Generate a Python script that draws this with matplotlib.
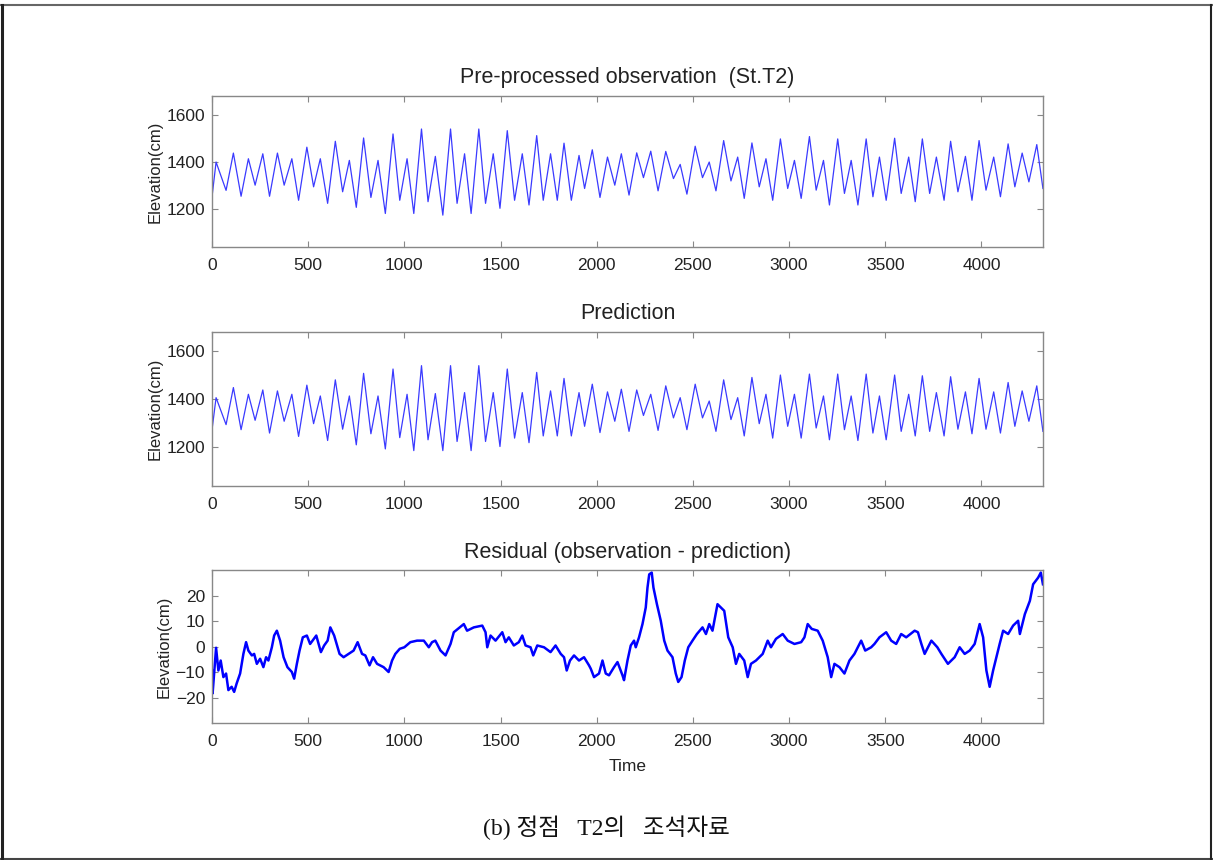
import matplotlib
matplotlib.use("Agg")
import matplotlib.pyplot as plt
from matplotlib.lines import Line2D

# time of each high / low water (10-min steps)
time_ext = [0, 21, 73, 111, 151, 189, 224, 264, 299, 340, 375, 415, 450, 493, 528, 563, 601, 641, 679, 714,
            750, 788, 826, 863, 901, 941, 976, 1014, 1049, 1089, 1123, 1161, 1200, 1240, 1274, 1313, 1347, 1387, 1422, 1462,
            1497, 1535, 1573, 1613, 1648, 1688, 1722, 1760, 1795, 1830, 1868, 1908, 1937, 1977, 2017, 2056, 2094, 2128, 2168, 2208,
            2243, 2281, 2319, 2359, 2399, 2434, 2469, 2512, 2550, 2585, 2620, 2660, 2698, 2733, 2767, 2807, 2845, 2880, 2915, 2955,
            2993, 3028, 3063, 3106, 3141, 3179, 3210, 3253, 3288, 3323, 3358, 3401, 3436, 3470, 3505, 3549, 3583, 3622, 3656, 3693,
            3731, 3766, 3806, 3840, 3878, 3917, 3951, 3988, 4024, 4064, 4099, 4139, 4174, 4212, 4247, 4288, 4320]

obs = [1253, 1400, 1280, 1438, 1255, 1414, 1302, 1435, 1255, 1438, 1302, 1414, 1238, 1463, 1295, 1414, 1225, 1488, 1274, 1407,
       1208, 1502, 1250, 1407, 1182, 1519, 1238, 1414, 1182, 1540, 1232, 1424, 1175, 1540, 1225, 1435, 1182, 1540, 1225, 1435,
       1204, 1533, 1238, 1435, 1218, 1512, 1238, 1435, 1238, 1480, 1238, 1428, 1288, 1452, 1250, 1421, 1302, 1435, 1260, 1439,
       1334, 1446, 1278, 1445, 1330, 1390, 1264, 1467, 1334, 1400, 1278, 1491, 1320, 1421, 1246, 1481, 1295, 1414, 1238, 1498,
       1288, 1407, 1246, 1508, 1281, 1407, 1218, 1498, 1267, 1407, 1218, 1498, 1253, 1421, 1238, 1501, 1267, 1421, 1232, 1498,
       1267, 1421, 1238, 1488, 1274, 1424, 1238, 1491, 1281, 1421, 1253, 1477, 1295, 1438, 1316, 1474, 1288]

pred = [1274, 1407, 1295, 1449, 1274, 1421, 1313, 1439, 1260, 1435, 1309, 1421, 1246, 1459, 1299, 1414, 1229, 1481, 1276, 1414,
        1211, 1508, 1257, 1414, 1194, 1526, 1241, 1421, 1187, 1540, 1232, 1424, 1187, 1540, 1225, 1428, 1187, 1540, 1225, 1428,
        1204, 1526, 1239, 1428, 1220, 1512, 1248, 1435, 1248, 1487, 1248, 1428, 1288, 1463, 1262, 1431, 1309, 1442, 1267, 1439,
        1333, 1421, 1271, 1456, 1323, 1407, 1274, 1463, 1323, 1393, 1267, 1481, 1316, 1407, 1248, 1491, 1299, 1421, 1239, 1501,
        1288, 1421, 1239, 1505, 1281, 1414, 1232, 1505, 1274, 1414, 1229, 1505, 1260, 1414, 1232, 1501, 1267, 1421, 1248, 1498,
        1267, 1428, 1248, 1494, 1276, 1431, 1257, 1487, 1276, 1431, 1260, 1470, 1288, 1435, 1309, 1456, 1267]

res_t = [0, 3, 21, 33, 45, 59, 73, 85, 102, 115, 128, 146, 163, 177, 189, 207, 219, 233, 250, 267,
         281, 293, 311, 323, 337, 354, 372, 392, 415, 427, 441, 455, 472, 493, 510, 542, 566, 583, 601, 615,
         635, 663, 684, 710, 736, 757, 780, 797, 819, 837, 858, 892, 918, 936, 953, 976, 1000, 1031, 1066, 1101,
         1127, 1144, 1161, 1188, 1214, 1240, 1257, 1309, 1326, 1361, 1405, 1422, 1431, 1448, 1474, 1509, 1526, 1543, 1569, 1595,
         1613, 1630, 1656, 1670, 1691, 1726, 1760, 1786, 1813, 1830, 1844, 1861, 1882, 1908, 1934, 1960, 1969,
         1986, 2012, 2030, 2047, 2064, 2090, 2108, 2134, 2142, 2160, 2177, 2194, 2203, 2220, 2238, 2255, 2264, 2273, 2286, 2295,
         2313, 2333, 2351, 2368, 2394, 2411, 2424, 2441, 2458, 2476, 2498, 2521, 2550, 2568, 2585, 2602, 2628, 2663, 2684, 2707,
         2724, 2741, 2767, 2785, 2802, 2828, 2863, 2889, 2906, 2932, 2967, 2993, 3028, 3063, 3080, 3097, 3118, 3149, 3175, 3201,
         3219, 3236, 3262, 3288, 3314, 3340, 3375, 3396, 3427, 3444, 3470, 3505, 3531, 3557, 3583, 3609, 3653, 3670, 3688, 3705,
         3740, 3771, 3792, 3826, 3861, 3887, 3913, 3939, 3965, 3991, 4009, 4026, 4043, 4061, 4078, 4095, 4113, 4139, 4165, 4191,
         4200, 4226, 4252, 4269, 4295, 4309, 4320]

res = [-9.4, -18.4, -0.5, -9.4, -5.5, -12.0, -10.6, -17.1, -15.8, -17.8, -14.5, -10.6, -2.9, 1.7, -1.6, -3.5, -2.9, -6.8, -4.8, -8.1,
       -4.2, -5.5, -0.3, 4.3, 6.2, 2.3, -4.2, -8.1, -10.0, -12.6, -6.8, -1.6, 3.6, 4.3, 1.0, 4.3, -2.2, 0.4, 2.3, 7.5,
       4.3, -2.9, -4.2, -2.9, -1.6, 1.7, -2.9, -3.5, -7.4, -4.2, -6.8, -8.1, -10.0, -5.5, -2.9, -0.9, -0.3, 1.7, 2.3, 2.3,
       -0.3, 1.7, 2.3, -1.6, -3.5, 1.0, 5.6, 8.8, 6.2, 7.5, 8.2, 5.6, -0.3, 4.3, 2.3, 5.6, 1.7, 3.6, 0.4, 1.7,
       4.3, 0.4, -0.3, -3.5, 0.4, -0.3, -2.2, 0.4, -2.9, -4.2, -9.4, -5.5, -3.5, -5.5, -4.2, -7.4, -8.7,
       -12.0, -10.6, -5.5, -10.6, -11.3, -8.1, -6.1, -11.3, -13.2, -5.5, 0.4, 2.3, -0.3, 3.6, 8.8, 15.3, 23.1, 28.3, 29.0, 23.1,
       16.6, 10.1, 2.3, -1.6, -4.2, -10.6, -13.9, -12.0, -5.5, -0.3, 2.3, 4.9, 7.5, 4.9, 8.8, 6.2, 16.6, 14.0, 3.6, -0.3,
       -6.8, -2.9, -5.5, -12.0, -6.8, -5.5, -2.9, 2.3, -0.3, 3.0, 4.9, 2.3, 1.0, 1.7, 3.6, 8.8, 6.9, 6.2, 2.3, -4.2,
       -12.0, -6.8, -8.1, -10.6, -5.5, -2.9, 2.3, -1.6, -0.3, 1.0, 3.6, 5.6, 2.3, 1.0, 4.9, 3.6, 6.2, 5.6, 1.0, -2.9,
       2.3, -0.3, -2.9, -6.8, -4.2, -0.3, -2.9, -1.6, 1.0, 8.8, 3.6, -9.4, -15.8, -9.4, -4.2, 1.0, 6.2, 4.9, 8.2, 10.1,
       4.9, 12.7, 17.9, 24.4, 27.0, 29.0, 24.4]

titles = ["Pre-processed observation  (St.T2)", "Prediction", "Residual (observation - prediction)"]
xticks = [0, 500, 1000, 1500, 2000, 2500, 3000, 3500, 4000]
caption = "(b) 정점   T2의   조석자료"

plt.rcParams['font.family'] = ['Liberation Sans', 'DejaVu Sans']

fig = plt.figure(figsize=(12.13, 8.6), dpi=100)

# axes boxes in figure fractions
boxes = [[0.1748, 0.7128, 0.685, 0.1756],
         [0.1748, 0.4349, 0.685, 0.1791],
         [0.1748, 0.1593, 0.685, 0.1779]]

series = [(time_ext, obs), (time_ext, pred), (res_t, res)]

for i, (box, (t, v)) in enumerate(zip(boxes, series)):
    ax = fig.add_axes(box)
    if i < 2:
        ax.plot(t, v, color='#3a3aff', lw=0.9)
        ax.set_ylim(1040, 1680)
        ax.set_yticks([1200, 1400, 1600])
    else:
        ax.plot(t, v, color='#0000ff', lw=1.8)
        ax.set_ylim(-30, 30)
        ax.set_yticks([-20, -10, 0, 10, 20])
        ax.set_xlabel("Time", fontsize=12.5, labelpad=7, color='#222222')
    ax.set_xlim(0, 4320)
    ax.set_xticks(xticks)
    ax.set_title(titles[i], fontsize=15.5, color='#222222', pad=9)
    ax.set_ylabel("Elevation(cm)", fontsize=12, color='#222222', labelpad=3)
    ax.tick_params(direction='in', top=True, right=True, length=4, width=0.8,
                   color='#888888', labelsize=12.5, labelcolor='#222222')
    ax.tick_params(axis='x', pad=8)
    ax.tick_params(axis='y', pad=5)
    for s in ax.spines.values():
        s.set_color('#888888')
        s.set_linewidth(1.0)

fig.text(0.5, 1 - 828 / 860, caption, ha='center', va='center', fontsize=17,
         family=['Liberation Serif', 'Noto Sans CJK KR'], color='#111111')

# page frame around the figure
fig.add_artist(Line2D([0, 1], [1 - 5 / 860] * 2, transform=fig.transFigure, color='#666666', lw=1.5))
fig.add_artist(Line2D([0, 1], [1 - 858.5 / 860] * 2, transform=fig.transFigure, color='#444444', lw=1.5))
fig.add_artist(Line2D([2 / 1213] * 2, [0, 1 - 5 / 860], transform=fig.transFigure, color='#222222', lw=2.2))
fig.add_artist(Line2D([1211 / 1213] * 2, [0, 1 - 5 / 860], transform=fig.transFigure, color='#222222', lw=1.5))

fig.savefig("out.png", dpi=100)
